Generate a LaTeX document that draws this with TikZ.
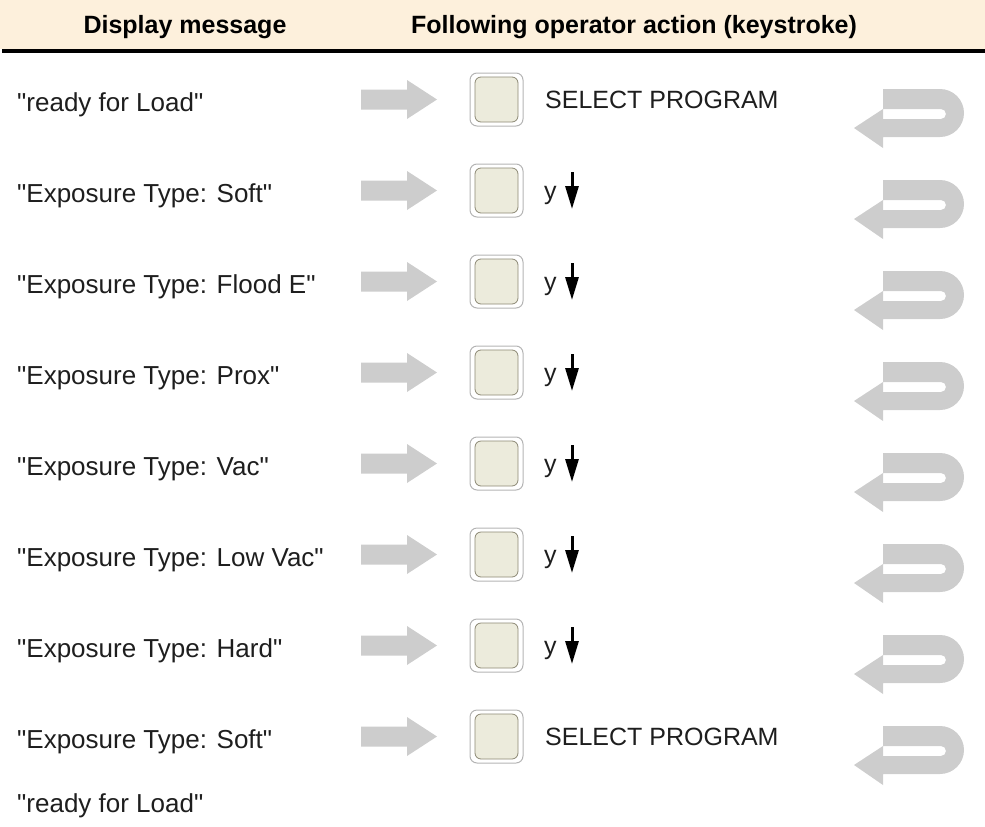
\documentclass[tikz,border=0pt]{standalone}
\usepackage{fontspec}
\setmainfont{Liberation Sans}
\usetikzlibrary{arrows.meta}

\definecolor{bandcream}{HTML}{FDF0DC}
\definecolor{flowgrey}{HTML}{CDCDCD}
\definecolor{keyface}{HTML}{ECEBDC}
\definecolor{keyrim}{HTML}{B4B4B4}
\definecolor{keyedge}{HTML}{8C8874}
\definecolor{inkgrey}{HTML}{1E1E1E}

\begin{document}
\begin{tikzpicture}[
  x=1pt, y=-1pt,
  line join=round,
  msg/.style={anchor=base west, inner sep=0pt, text=inkgrey,
              font=\fontsize{26}{30}\selectfont},
  act/.style={anchor=base west, inner sep=0pt, text=inkgrey,
              font=\fontsize{25}{30}\selectfont},
  colhead/.style={anchor=base, inner sep=0pt,
              font=\fontsize{25}{28}\selectfont\bfseries},
  keyrimbox/.style={draw=keyrim, line width=1pt, rounded corners=7pt,
              minimum width=53pt, minimum height=53pt, inner sep=0pt},
  keyfacebox/.style={draw=keyedge, fill=keyface, line width=0.8pt,
              rounded corners=6pt, minimum width=43pt, minimum height=45pt,
              inner sep=0pt},
  downtip/.style={line width=3pt, -{Triangle[length=23pt, width=13pt]}},
]
\useasboundingbox (0,0) rectangle (985,827);

% ── the column heads ──────────────────────────────────────────────────────
\fill[bandcream] (0,0) rectangle (985,49);
\draw[line width=4pt] (2,51) -- (985,51);
\node[colhead] (headmsg) at (185,33) {Display message};
\node[colhead] (headact) at (634,33) {Following operator action (keystroke)};

% ── one row per message ───────────────────────────────────────────────────
\foreach \k/\txt/\isdown in {%
  0/ready for Load/0,
  1/Exposure Type: Soft/1,
  2/Exposure Type: Flood E/1,
  3/Exposure Type: Prox/1,
  4/Exposure Type: Vac/1,
  5/Exposure Type: Low Vac/1,
  6/Exposure Type: Hard/1,
  7/Exposure Type: Soft/0%
} {
  \pgfmathsetmacro\yc{99.5+91*\k}
  \node[msg] (msg\k) at (17,\yc+11.5) {\textquotedbl\txt\textquotedbl};
  % gray arrow to the key
  \fill[flowgrey] (361,\yc-10) -- (407,\yc-10) -- (407,\yc-19.5) -- (437,\yc)
    -- (407,\yc+19.5) -- (407,\yc+10) -- (361,\yc+10) -- cycle;
  % the key
  \node[keyrimbox] (key\k) at (496.5,\yc) {};
  \node[keyfacebox] (face\k) at (key\k.center) {};
  \ifnum\isdown=1
    \node[act] (act\k) at (544,\yc+8.5) {y};
    \coordinate (dtop\k) at (572,\yc-18.5);
    \coordinate (dbot\k) at (572,\yc+18.5);
    \draw[downtip] (dtop\k) -- (dbot\k);
  \else
    \node[act] (act\k) at (545,\yc+8.5) {SELECT PROGRAM};
  \fi
  % the return arrow
  \pgfmathsetmacro\T{89+91*\k}
  \fill[flowgrey] (883,\T) -- (940,\T) arc[start angle=90, end angle=-90, radius=24pt]
    -- (883,\T+48) -- (883,\T+59) -- (854,\T+39) -- (883,\T+20) -- (883,\T+30)
    -- (941,\T+30) arc[start angle=-90, end angle=90, radius=5pt]
    -- (883,\T+20) -- cycle;
}
\node[msg] (msgend) at (17,812) {\textquotedbl ready for Load\textquotedbl};

\end{tikzpicture}
\end{document}
